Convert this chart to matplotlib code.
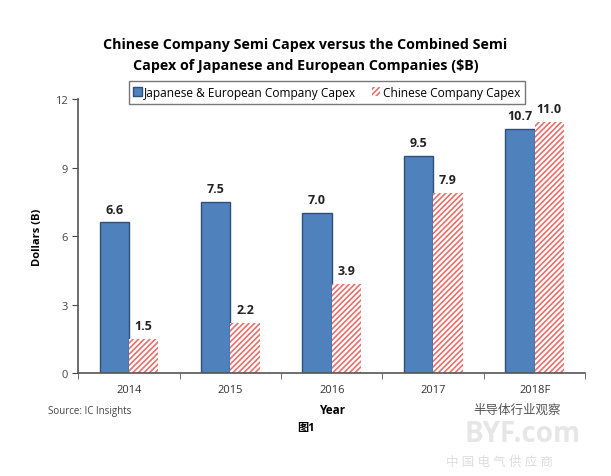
import matplotlib
matplotlib.use("Agg")
import matplotlib.pyplot as plt
import numpy as np

plt.rcParams['font.family'] = ['Open Sans', 'Noto Sans CJK SC', 'DejaVu Sans']
plt.rcParams['hatch.linewidth'] = 1.2

years = ['2014', '2015', '2016', '2017', '2018F']
jp_eu_capex = [6.6, 7.5, 7.0, 9.5, 10.7]
china_capex = [1.5, 2.2, 3.9, 7.9, 11.0]

fig = plt.figure(figsize=(6.11, 4.77), dpi=100)
ax = fig.add_axes([0.128, 0.216, 0.83, 0.574])

x = np.arange(len(years))
w = 0.29
blue = ax.bar(x - w / 2, jp_eu_capex, w, color='#4F81BD', edgecolor='#2E4F7A',
              linewidth=1.0, label='Japanese & European Company Capex')
red = ax.bar(x + w / 2, china_capex, w, color='white', edgecolor='#E8706A',
             hatch='//////', linewidth=0, label='Chinese Company Capex')

for xi, v in zip(x - w / 2, jp_eu_capex):
    ax.text(xi, v + 0.3, f"{v:.1f}", ha='center', va='bottom', fontsize=9,
            fontweight='bold', color='#222222')
for xi, v in zip(x + w / 2, china_capex):
    ax.text(xi, v + 0.3, f"{v:.1f}", ha='center', va='bottom', fontsize=9,
            fontweight='bold', color='#222222')

ax.set_xlim(-0.5, len(years) - 0.5)
ax.set_ylim(0, 12)
ax.set_yticks([0, 3, 6, 9, 12])
ax.tick_params(axis='y', labelsize=8, colors='#444444', length=4, direction='out')
ax.set_xticks(x)
ax.set_xticklabels(years, fontsize=8, color='#333333')
ax.tick_params(axis='x', length=0, pad=8)
ax.set_xticks(np.arange(len(years) + 1) - 0.5, minor=True)
ax.tick_params(axis='x', which='minor', length=4, direction='out', color='#555555')

for s in ['top', 'right']:
    ax.spines[s].set_visible(False)
for s in ['left', 'bottom']:
    ax.spines[s].set_color('#555555')
    ax.spines[s].set_linewidth(1.2)

ax.set_ylabel('Dollars (B)', fontsize=8, fontweight='bold', labelpad=9)
ax.set_xlabel('Year', fontsize=8.5, fontweight='bold', labelpad=6)

fig.text(0.5, 0.883, 'Chinese Company Semi Capex versus the Combined Semi\n'
         'Capex of Japanese and European Companies ($B)',
         ha='center', va='center', fontsize=10.3, fontweight='bold', linespacing=1.65)

leg = ax.legend(loc='lower center', bbox_to_anchor=(0.49, 0.962), ncol=2,
                fontsize=8.6, frameon=True, fancybox=False, edgecolor='#555555',
                handlelength=0.7, handleheight=0.7, handletextpad=0.2,
                columnspacing=1.3, borderpad=0.4)
leg.get_frame().set_linewidth(1.0)

fig.text(0.078, 0.138, 'Source: IC Insights', fontsize=7, color='#444444', va='center')
fig.text(0.5, 0.102, '图1', fontsize=8, fontweight='bold', ha='center', va='center')
fig.text(0.775, 0.14, '半导体行业观察', fontsize=9, color='#555555', va='center')
fig.text(0.76, 0.09, 'BYF.com', fontsize=20, color='#e6e6e6', fontweight='bold', va='center')
fig.text(0.73, 0.03, '中 国 电 气 供 应 商', fontsize=9, color='#dddddd', style='italic', va='center')

fig.savefig('out.png', dpi=100)
